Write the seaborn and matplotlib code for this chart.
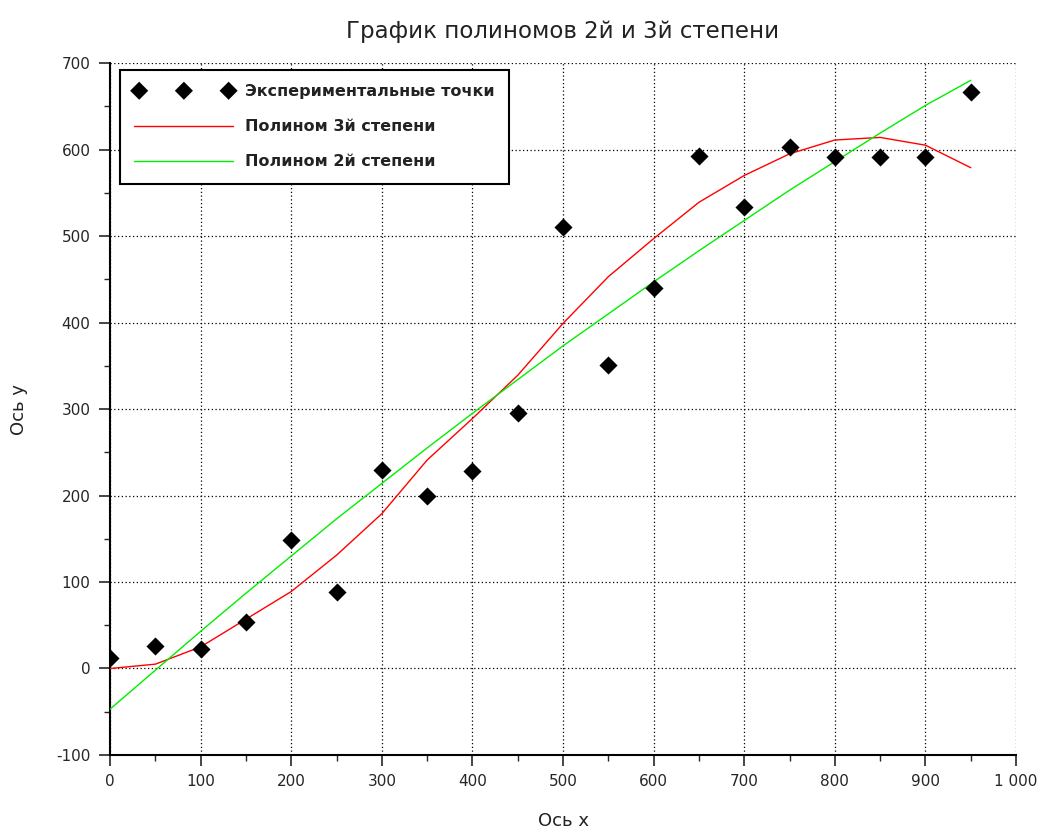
import numpy as np
import pandas as pd
import matplotlib
matplotlib.use("Agg")
import matplotlib.pyplot as plt
import seaborn as sns
from matplotlib.ticker import MultipleLocator, FixedLocator

# data
x_pts = [0, 50, 100, 150, 200, 250, 300, 350, 400, 450,
         500, 550, 600, 650, 700, 750, 800, 850, 900, 950]
y_exp = [12, 26, 23, 54, 149, 88, 230, 199, 228, 295,
         510, 351, 440, 593, 534, 603, 591, 591, 591, 667]
y_cubic = [0, 5, 25, 57, 89, 131, 179, 241, 289, 339,
           399, 453, 497, 539, 570, 595, 611, 614, 605, 579]
y_quad = [-47, -2, 43, 87, 130, 173, 214, 255, 295, 334,
          373, 410, 447, 483, 518, 553, 586, 619, 651, 680]

x_ticks = [0, 100, 200, 300, 400, 500, 600, 700, 800, 900, 1000]
x_tick_labels = ["0", "100", "200", "300", "400", "500", "600", "700", "800", "900", "1 000"]
y_ticks = [-100, 0, 100, 200, 300, 400, 500, 600, 700]

df = pd.DataFrame({"x": x_pts, "exp": y_exp, "cubic": y_cubic, "quad": y_quad})

sns.set_style("white")
plt.rcParams['font.family'] = ['DejaVu Sans']
plt.rcParams['axes.unicode_minus'] = False

fig = plt.figure(figsize=(10.54, 8.36), dpi=100)
ax = fig.add_axes([0.1044, 0.0969, 0.8596, 0.8277])

sns.scatterplot(data=df, x="x", y="exp", marker="D", s=85, color="black",
                edgecolor="black", linewidth=0, ax=ax, label="Экспериментальные точки", zorder=4)
sns.lineplot(data=df, x="x", y="cubic", color="#ff0000", linewidth=1.0, ax=ax,
             label="Полином 3й степени", zorder=3)
sns.lineplot(data=df, x="x", y="quad", color="#00ee00", linewidth=1.0, ax=ax,
             label="Полином 2й степени", zorder=3)

ax.set_xlim(0, 1000)
ax.set_ylim(-100, 700)
ax.xaxis.set_major_locator(FixedLocator(x_ticks))
ax.set_xticklabels(x_tick_labels)
ax.yaxis.set_major_locator(FixedLocator(y_ticks))
ax.xaxis.set_minor_locator(MultipleLocator(50))
ax.yaxis.set_minor_locator(MultipleLocator(50))

ax.grid(True, which="major", color="black", linestyle=(0, (1, 2)), linewidth=0.9)
ax.tick_params(which="major", direction="out", length=8, width=1.2, labelsize=11,
               bottom=True, left=True, pad=6)
ax.tick_params(which="minor", direction="out", length=4, width=1.0, bottom=True, left=True)

for s in ["top", "right"]:
    ax.spines[s].set_visible(False)
for s in ["left", "bottom"]:
    ax.spines[s].set_color("black")
    ax.spines[s].set_linewidth(1.5)

ax.set_title("График полиномов 2й и 3й степени", fontsize=16.5, pad=18, color="#222222")
ax.set_xlabel("Ось x", fontsize=13, labelpad=16, color="#222222")
ax.set_ylabel("Ось y", fontsize=13, labelpad=20, color="#222222")

leg = ax.legend(loc="upper left", scatterpoints=3, scatteryoffsets=[0.5], fontsize=11.5,
                fancybox=False, framealpha=1, edgecolor="black", borderpad=0.9,
                handlelength=6.2, handletextpad=0.7, labelspacing=1.25, borderaxespad=0,
                bbox_to_anchor=(0.011, 0.99))
leg.get_frame().set_linewidth(1.5)
for t in leg.get_texts():
    t.set_fontweight("bold")
    t.set_color("#222222")

fig.savefig("out.png", dpi=100)
